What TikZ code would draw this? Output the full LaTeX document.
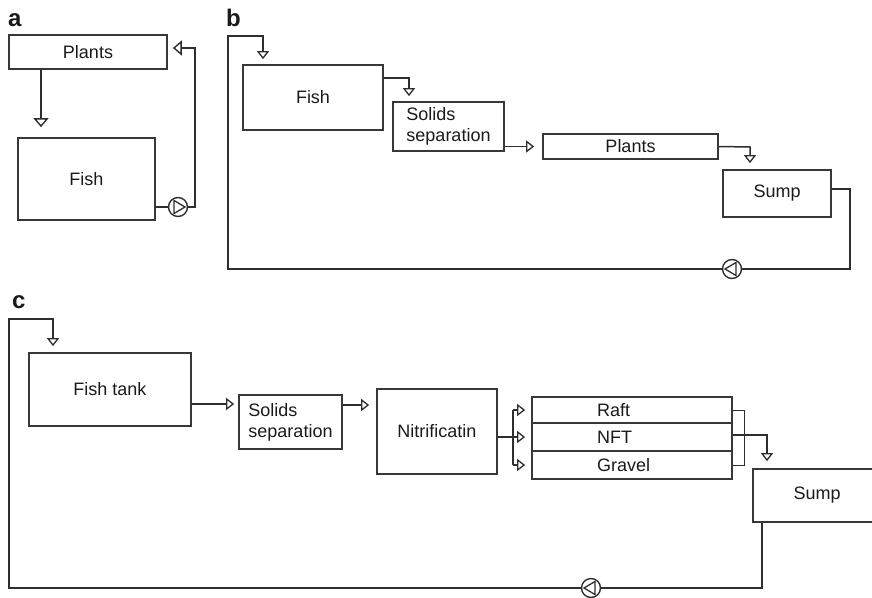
\documentclass[tikz,border=0pt]{standalone}
\usepackage{fontspec}
\setmainfont{Liberation Sans}
\usetikzlibrary{arrows.meta,calc}
\definecolor{linec}{HTML}{2E2E2E}
\definecolor{boxc}{HTML}{383838}
\definecolor{txt}{HTML}{1A1A1A}
\begin{document}
\begin{tikzpicture}[x=1pt,y=-1pt,
  box/.style={draw=boxc, line width=1.7pt, inner sep=0pt, font=\fontsize{18}{21}\selectfont, text=txt},
  lab/.style={font=\fontsize{24}{24}\selectfont\bfseries, text=txt, anchor=base west, inner sep=0pt},
  ln/.style={draw=linec, line width=1.5pt},
  thinln/.style={draw=linec, line width=1pt},
  arrS/.style={ln, -{Triangle[open, length=8pt, width=12pt, line width=1.3pt]}},
  arrA/.style={ln, -{Triangle[open, length=9pt, width=15pt, line width=1.4pt]}},
  pump/.style={circle, draw=linec, line width=1.4pt, minimum size=19pt, inner sep=0pt},
  pumpR/.style={pump, path picture={\draw[linec, line width=1.3pt]
      ($(path picture bounding box.center)+(-4,-6.5)$) -- ++(0,13) -- ++(11,-6.5) -- cycle;}},
  pumpL/.style={pump, path picture={\draw[linec, line width=1.3pt]
      ($(path picture bounding box.center)+(4,-6.5)$) -- ++(0,13) -- ++(-11,-6.5) -- cycle;}}
]
\useasboundingbox (0,0) rectangle (872,597);
\clip (0,0) rectangle (872,597);

% ---------------- panel a ----------------
\node[lab] (la) at (8,26) {a};
\node[box, minimum width=158pt, minimum height=34pt] (aPlants) at (88,52) {Plants};
\node[box, minimum width=137pt, minimum height=82pt] (aFish) at (86.5,179) {Fish};
\node[pumpR] (aPump) at (178,207) {};
\coordinate (aX) at (41,0);
\coordinate (aR) at (195,48);
\draw[arrA, shorten >=10pt] (aPlants.south -| aX) -- (aFish.north -| aX);
\draw[ln] (aFish.east |- aPump) -- (aPump.west);
\draw[arrA, shorten >=5pt] (aPump.east) -- (aPump.east -| aR) -- (aR) -- (aR -| aPlants.east);

% ---------------- panel b ----------------
\node[lab] (lb) at (226,26) {b};
\node[box, minimum width=140pt, minimum height=65pt] (bFish) at (313,97.5) {Fish};
\node[box, minimum width=111pt, minimum height=49pt, align=left] (bSolids) at (448.5,126.5) {Solids\\separation};
\node[box, minimum width=175pt, minimum height=25pt] (bPlants) at (630.5,146.5) {Plants};
\node[box, minimum width=108pt, minimum height=47pt] (bSump) at (777,193.5) {Sump};
\node[pumpL] (bPump) at (732,269) {};
\coordinate (bL) at (228,36);
\coordinate (bT) at (263,36);
\coordinate (bF) at (409,78);
\coordinate (bP) at (750,147);
\coordinate (bS) at (850,189);
\draw[arrS, shorten >=5pt] (bPump.west) -- (bPump.west -| bL) -- (bL) -- (bT) -- (bT |- bFish.north);
\draw[arrS, shorten >=5pt] (bFish.east |- bF) -- (bF) -- (bF |- bSolids.north);
\draw[arrS, shorten >=8pt] (bSolids.east |- bPlants) -- (bPlants.west);
\draw[arrS, shorten >=6pt] (bPlants.east) -- (bP) -- (bP |- bSump.north);
\draw[ln] (bSump.east |- bS) -- (bS) -- (bS |- bPump) -- (bPump.east);

% ---------------- panel c ----------------
\node[lab] (lc) at (12,308) {c};
\node[box, minimum width=162pt, minimum height=73pt] (cFish) at (110,389.5) {Fish tank};
\node[box, minimum width=103pt, minimum height=54pt, align=left] (cSolids) at (290.5,422) {Solids\\separation};
\node[box, minimum width=120pt, minimum height=85pt] (cNitri) at (437,431.5) {Nitrificatin};
\node[box, minimum width=200pt, minimum height=26pt, text width=200pt, align=left] (cRaft) at (632,410) {\hspace*{65pt}Raft};
\node[box, minimum width=200pt, minimum height=28pt, text width=200pt, align=left] (cNFT) at (632,437) {\hspace*{65pt}NFT};
\node[box, minimum width=200pt, minimum height=28pt, text width=200pt, align=left] (cGravel) at (632,465) {\hspace*{65pt}Gravel};
\node[box, minimum width=128pt, minimum height=53pt] (cSump) at (817,495.5) {Sump};
\node[pumpL] (cPump) at (591,588) {};
\coordinate (cL) at (9,319);
\coordinate (cT) at (53,319);
\coordinate (cJ) at (513,0);
\coordinate (cB) at (744,0);
\coordinate (cN) at (767,435);
\coordinate (cD) at (762,588);
\draw[arrS, shorten >=6pt] (cPump.west) -- (cPump.west -| cL) -- (cL) -- (cT) -- (cT |- cFish.north);
\draw[arrS, shorten >=4pt] (cFish.east |- 0,404) -- (cSolids.west |- 0,404);
\draw[arrS, shorten >=7pt] (cSolids.east |- 0,405) -- (cNitri.west |- 0,405);
\draw[arrS, shorten >=6pt] (cNitri.east |- cNFT) -- (cNFT.west);
\draw[ln] (cJ |- cRaft) -- (cJ |- cGravel);
\draw[arrS, shorten >=6pt] (cJ |- cRaft) -- (cRaft.west);
\draw[arrS, shorten >=6pt] (cJ |- cGravel) -- (cGravel.west);
\draw[thinln] (cRaft.east) -- (cB |- cRaft) -- (cB |- cGravel) -- (cGravel.east);
\draw[arrS, shorten >=7pt] (cNFT.east |- cN) -- (cN) -- (cN |- cSump.north);
\draw[ln] (cD |- cSump.south) -- (cD) -- (cPump.east);
\end{tikzpicture}
\end{document}
